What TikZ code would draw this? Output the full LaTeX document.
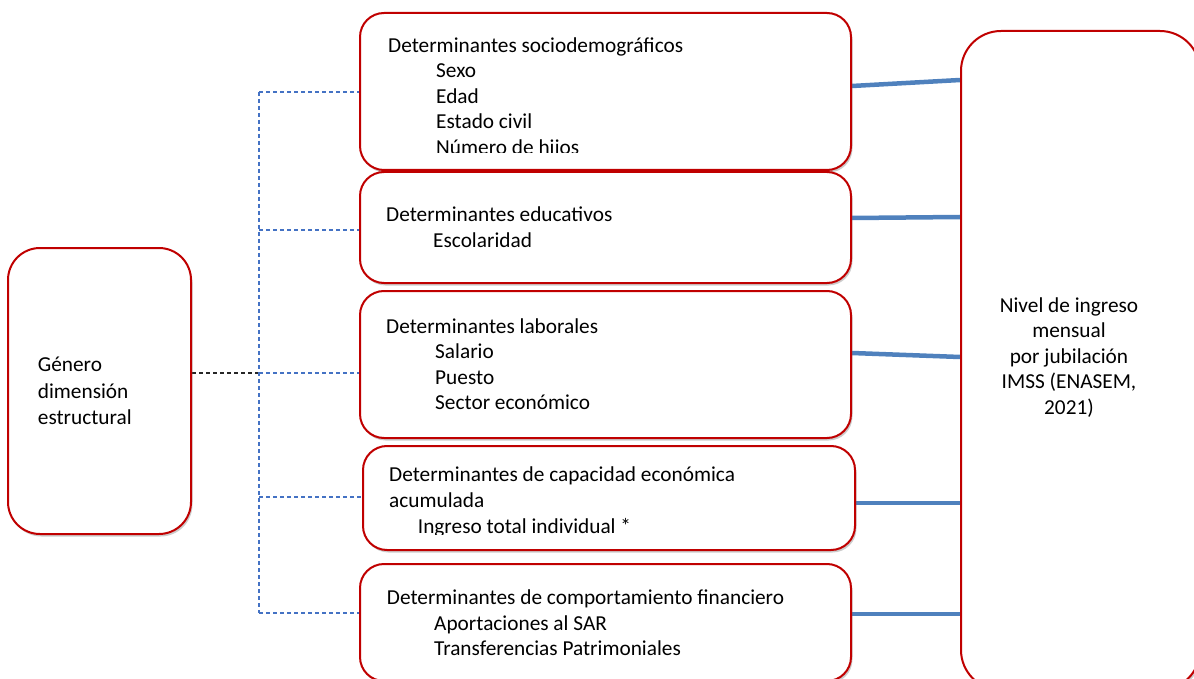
\documentclass[tikz,border=0pt]{standalone}
\usepackage{fontspec}
\setmainfont{Carlito}
\usetikzlibrary{calc,shadows}
\definecolor{boxred}{HTML}{C00000}
\definecolor{linkblue}{HTML}{4F81BD}
\definecolor{dashblue}{HTML}{4472C4}
\pgfdeclarelayer{background}
\pgfsetlayers{background,main}
\begin{document}
\begin{tikzpicture}[x=1pt,y=-1pt,
  box/.style={draw=boxred, line width=2pt, rounded corners=24pt, fill=white, inner sep=0pt,
    drop shadow={shadow xshift=1.5pt, shadow yshift=-2.5pt, opacity=0.4}},
  txt/.style={inner sep=0pt, anchor=base west, font=\fontsize{21.3}{25.5}\selectfont},
  ctxt/.style={txt, anchor=base},
  link/.style={draw=linkblue, line width=4.5pt},
  branch/.style={draw=dashblue, line width=1.2pt, dash pattern=on 4pt off 3pt},
  stem/.style={draw=black!85, line width=1.2pt, dash pattern=on 4pt off 3pt}]
\useasboundingbox (0,0) rectangle (1194,679);
\clip (0,0) rectangle (1194,679);

% boxes
\node[box, minimum width=183pt, minimum height=286pt, rounded corners=32pt] (gen) at (99.5,391) {};
\node[box, minimum width=491pt, minimum height=157pt] (b1) at (605.5,91.5) {};
\node[box, minimum width=491pt, minimum height=111pt] (b2) at (605.5,227.5) {};
\node[box, minimum width=491pt, minimum height=147pt] (b3) at (605.5,364.5) {};
\node[box, minimum width=492pt, minimum height=104pt] (b4) at (609,498) {};
\node[box, minimum width=491pt, minimum height=117pt] (b5) at (605.5,622.5) {};
\node[box, minimum width=239pt, minimum height=659pt, rounded corners=40pt] (out) at (1080.5,360.5) {};

% left box text
\node[txt] (g1) at (37.7,371.7) {Género};
\node[txt] (g2) at (37.7,398) {dimensión};
\node[txt] (g3) at (37.7,424) {estructural};

% sociodemographic box (last line overflows the box)
\node[txt] (s1) at (388,52.5) {Determinantes sociodemográficos};
\node[txt] (s2) at (436,78) {Sexo};
\node[txt] (s3) at (436,103.5) {Edad};
\node[txt] (s4) at (436,129) {Estado civil};
\begin{scope}
  \clip (362,14) rectangle (849,153);
  \node[txt] (s5) at (436,154.5) {Número de hijos};
\end{scope}

% education box
\node[txt] (e1) at (386,222) {Determinantes educativos};
\node[txt] (e2) at (433,247.5) {Escolaridad};

% labour box
\node[txt] (l1) at (386,333) {Determinantes laborales};
\node[txt] (l2) at (435,358.5) {Salario};
\node[txt] (l3) at (435,384) {Puesto};
\node[txt] (l4) at (435,409.5) {Sector económico};

% accumulated economic capacity box
\node[txt] (c1) at (389,481.7) {Determinantes de capacidad económica};
\node[txt] (c2) at (389,507.7) {acumulada};
\begin{scope}
  \clip (365,447) rectangle (853,534.5);
  \node[txt] (c3) at (417.7,533.3) {Ingreso total individual *};
\end{scope}

% financial behaviour box
\node[txt] (f1) at (386.7,604.3) {Determinantes de comportamiento financiero};
\node[txt] (f2) at (434,630) {Aportaciones al SAR};
\node[txt] (f3) at (434,655.7) {Transferencias Patrimoniales};

% outcome box text
\node[ctxt] (o1) at (1069,312) {Nivel de ingreso};
\node[ctxt] (o2) at (1069,337.5) {mensual};
\node[ctxt] (o3) at (1069,363) {por jubilación};
\node[ctxt] (o4) at (1069,388.5) {IMSS (ENASEM,};
\node[ctxt] (o5) at (1069,414) {2021)};

% connectors
\coordinate (hub) at (259,373);
\coordinate (t1) at ([yshift=-0.5pt]b1.west);
\coordinate (t2) at ([yshift=-2.5pt]b2.west);
\coordinate (t3) at ([yshift=-8.5pt]b3.west);
\coordinate (t4) at ([yshift=1pt]b4.west);
\coordinate (t5) at ([yshift=9.5pt]b5.west);
\begin{pgfonlayer}{background}
  \draw[stem] ([yshift=18pt]gen.east) -- (hub);
  \draw[branch] (hub |- t1) -- (hub |- t5);
  \foreach \t in {t1,t2,t3,t4,t5} \draw[branch] (hub |- \t) -- (\t);
  \draw[link] ([yshift=5.5pt]b1.east) -- ([yshift=280.5pt]out.west);
  \draw[link] ([yshift=9.5pt]b2.east) -- ([yshift=143.5pt]out.west);
  \draw[link] ([yshift=11.5pt]b3.east) -- ([yshift=3.5pt]out.west);
  \draw[link] ([yshift=-5pt]b4.east) -- ([yshift=-142.5pt]out.west);
  \draw[link] ([yshift=8.5pt]b5.east) -- ([yshift=-253.5pt]out.west);
\end{pgfonlayer}
\end{tikzpicture}
\end{document}
